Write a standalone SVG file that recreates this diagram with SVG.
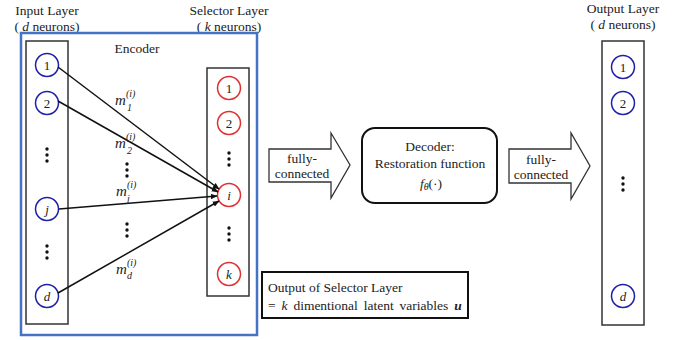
<svg xmlns="http://www.w3.org/2000/svg" width="689" height="340" viewBox="0 0 689 340" font-family="'Liberation Serif', 'DejaVu Serif', serif">
<defs>
<style>
text{font-family:"Liberation Serif","DejaVu Serif",serif;fill:#222;}
.lbl{font-size:13.5px;text-anchor:middle;}
.box{fill:none;stroke:#333;stroke-width:1.5;}
.bn{fill:#fff;stroke:#1f1fa8;stroke-width:1.5;}
.rn{fill:#fff;stroke:#e03030;stroke-width:1.5;}
.nt{font-size:13px;text-anchor:middle;}
.it{font-style:italic;}
.dot{fill:#111;}
.conn{stroke:#111;stroke-width:1.5;fill:none;marker-end:url(#ah);}
.harrow{fill:#fff;stroke:#333;stroke-width:1.3;}
.m{font-size:15px;font-style:italic;}
.s{font-size:10px;font-style:italic;}
</style>
<marker id="ah" viewBox="0 0 10 10" refX="9" refY="5" markerWidth="7" markerHeight="7" markerUnits="userSpaceOnUse" orient="auto">
<path d="M0,1 L10,5 L0,9 z" fill="#111"/>
</marker>
</defs>
<rect width="689" height="340" fill="#fff"/>

<!-- headers -->
<g id="headers">
<text class="lbl" x="47" y="15">Input Layer</text>
<text class="lbl" x="47" y="31">( <tspan class="it">d</tspan> neurons)</text>
<text class="lbl" x="229" y="15">Selector Layer</text>
<text class="lbl" x="229" y="31">( <tspan class="it">k</tspan> neurons)</text>
<text class="lbl" x="623" y="13">Output Layer</text>
<text class="lbl" x="623" y="29">( <tspan class="it">d</tspan> neurons)</text>
</g>

<!-- encoder -->
<g id="encoder">
<rect x="21" y="33" width="236" height="302" fill="none" stroke="#4472c4" stroke-width="2.5"/>
<text class="lbl" x="137" y="53">Encoder</text>
</g>

<!-- input layer -->
<g id="input-layer">
<rect class="box" x="26" y="41" width="42" height="283"/>
<circle class="bn" cx="47" cy="65" r="11.5"/><text class="nt" x="47" y="69.5">1</text>
<circle class="bn" cx="47" cy="103" r="11.5"/><text class="nt" x="47" y="107.5">2</text>
<circle class="dot" cx="47" cy="149" r="1.7"/><circle class="dot" cx="47" cy="155" r="1.7"/><circle class="dot" cx="47" cy="161" r="1.7"/>
<circle class="bn" cx="47" cy="209" r="11.5"/><text class="nt it" x="47" y="213.5">j</text>
<circle class="dot" cx="47" cy="246" r="1.7"/><circle class="dot" cx="47" cy="252" r="1.7"/><circle class="dot" cx="47" cy="258" r="1.7"/>
<circle class="bn" cx="47" cy="296" r="11.5"/><text class="nt it" x="47" y="300.5">d</text>
</g>

<!-- selector layer -->
<g id="selector-layer">
<rect class="box" x="207" y="68" width="42" height="228"/>
<circle class="rn" cx="229" cy="88" r="11.5"/><text class="nt" x="229" y="92.5">1</text>
<circle class="rn" cx="229" cy="123" r="11.5"/><text class="nt" x="229" y="127.5">2</text>
<circle class="dot" cx="229" cy="153" r="1.7"/><circle class="dot" cx="229" cy="159" r="1.7"/><circle class="dot" cx="229" cy="165" r="1.7"/>
<circle class="rn" cx="229" cy="195" r="11.5"/><text class="nt it" x="229" y="199.5">i</text>
<circle class="dot" cx="229" cy="228" r="1.7"/><circle class="dot" cx="229" cy="234" r="1.7"/><circle class="dot" cx="229" cy="240" r="1.7"/>
<circle class="rn" cx="229" cy="274" r="11.5"/><text class="nt it" x="229" y="278.5">k</text>
</g>

<!-- connectors -->
<g id="connectors">
<line class="conn" x1="58" y1="67" x2="219" y2="189"/>
<line class="conn" x1="58" y1="101" x2="218" y2="192"/>
<line class="conn" x1="59" y1="209" x2="217" y2="196"/>
<line class="conn" x1="58" y1="293" x2="219" y2="201"/>
</g>

<!-- weight labels -->
<g id="weights">
<text class="m" x="115" y="105">m</text><text class="s" x="126" y="97">(i)</text><text class="s" x="127" y="111">1</text>
<text class="m" x="115" y="148">m</text><text class="s" x="126" y="140">(i)</text><text class="s" x="127" y="154">2</text>
<text class="m" x="116" y="196">m</text><text class="s" x="127" y="188">(i)</text><text class="s" x="127" y="202">j</text>
<text class="m" x="116" y="274">m</text><text class="s" x="127" y="266">(i)</text><text class="s" x="127" y="279">d</text>
<circle class="dot" cx="127" cy="164" r="1.7"/><circle class="dot" cx="127" cy="170" r="1.7"/><circle class="dot" cx="127" cy="176" r="1.7"/>
<circle class="dot" cx="127" cy="224" r="1.7"/><circle class="dot" cx="127" cy="230" r="1.7"/><circle class="dot" cx="127" cy="236" r="1.7"/>
</g>

<!-- fully connected arrow 1 -->
<g id="fc1">
<path class="harrow" d="M269,149 L331,149 L331,133 L350,165 L331,198 L331,182 L269,182 Z"/>
<text class="lbl" x="302" y="163">fully-</text>
<text class="lbl" x="302" y="178">connected</text>
</g>

<!-- decoder -->
<g id="decoder">
<rect x="362" y="128" width="135" height="75" rx="13" fill="#fff" stroke="#111" stroke-width="2"/>
<text class="lbl" x="430" y="151">Decoder:</text>
<text class="lbl" x="430" y="168">Restoration function</text>
<text class="lbl" font-size="15" x="431" y="188"><tspan class="it">f</tspan><tspan class="it" font-size="10" dy="2">θ</tspan><tspan dy="-2">(·)</tspan></text>
</g>

<!-- fully connected arrow 2 -->
<g id="fc2">
<path class="harrow" d="M509,149 L571,149 L571,133 L590,166 L571,199 L571,183 L509,183 Z"/>
<text class="lbl" x="541" y="164">fully-</text>
<text class="lbl" x="541" y="179">connected</text>
</g>

<!-- output layer -->
<g id="output-layer">
<rect class="box" x="602" y="41" width="42" height="284"/>
<circle class="bn" cx="623" cy="67" r="11.5"/><text class="nt" x="623" y="71.5">1</text>
<circle class="bn" cx="623" cy="103" r="11.5"/><text class="nt" x="623" y="107.5">2</text>
<circle class="dot" cx="623" cy="178" r="1.7"/><circle class="dot" cx="623" cy="184" r="1.7"/><circle class="dot" cx="623" cy="190" r="1.7"/>
<circle class="bn" cx="623" cy="296" r="11.5"/><text class="nt it" x="623" y="300.5">d</text>
</g>

<!-- output of selector note -->
<g id="selector-output-note">
<rect x="262" y="272" width="206" height="46" fill="#fff" stroke="#111" stroke-width="2"/>
<text font-size="13.5" x="268" y="292">Output of Selector Layer</text>
<text font-size="13.5" x="268" y="310" word-spacing="2.5">= <tspan class="it">k</tspan> dimentional latent variables <tspan font-weight="bold" font-style="italic">u</tspan></text>
</g>
</svg>
